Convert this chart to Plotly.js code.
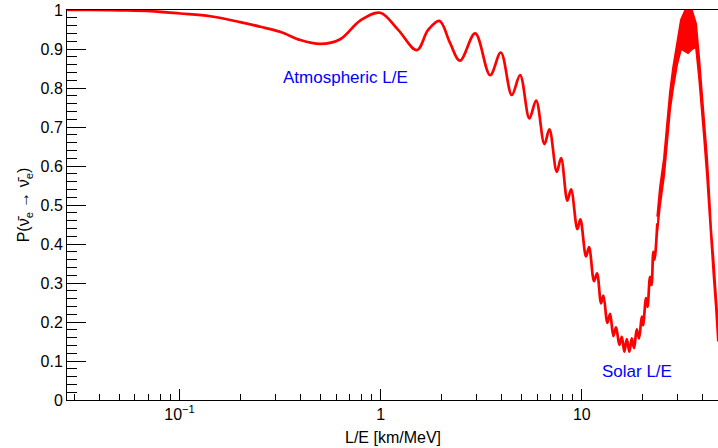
<!DOCTYPE html>
<html>
<head>
<meta charset="utf-8">
<script src="https://cdn.plot.ly/plotly-3.0.1.min.js"></script>
<style>html,body{margin:0;padding:0;background:#fff;}</style>
</head>
<body>
<div id="chart" style="width:718px;height:448px;"></div>
<script>
// L/E [km/MeV] and survival probability (resolved part of the curve)
const LE = [0.0276, 0.036, 0.0507, 0.0715, 0.1008, 0.1421, 0.2002, 0.2519, 0.3166, 0.398, 0.5003, 0.629, 0.791, 0.994,
  1.222, 1.513, 1.722, 1.96, 2.215, 2.48, 2.95, 3.501, 3.957, 4.488, 4.935, 5.49, 5.929, 6.52, 6.902, 7.511, 7.889,
  8.481, 8.847, 9.508, 9.841, 10.50, 10.87, 11.51, 11.91, 12.47, 12.81, 13.41, 13.83, 14.36, 14.81, 15.38, 15.81,
  16.28, 16.74, 17.25, 17.73, 18.20, 18.77, 19.27, 19.87, 20.17, 20.87, 21.23, 21.85, 22.23, 22.69, 23.00, 23.75];
const P = [1.000, 1.000, 0.999, 0.997, 0.991, 0.984, 0.969, 0.957, 0.944, 0.923, 0.913, 0.925, 0.973, 0.993,
  0.949, 0.897, 0.949, 0.972, 0.915, 0.870, 0.940, 0.833, 0.891, 0.782, 0.833, 0.722, 0.768, 0.656, 0.694, 0.585, 0.620,
  0.511, 0.540, 0.438, 0.463, 0.368, 0.392, 0.305, 0.325, 0.248, 0.268, 0.198, 0.221, 0.164, 0.186, 0.141, 0.162,
  0.124, 0.156, 0.124, 0.158, 0.133, 0.181, 0.158, 0.214, 0.192, 0.261, 0.239, 0.316, 0.295, 0.380, 0.36, 0.453];

// Unresolved fast-oscillation band: envelope
const bandLE = [23.75, 24.50, 25.65, 26.55, 27.48, 28.44, 29.77, 31.16, 32.62, 33.76, 35.34, 36.99, 38.28, 39.63,
  40.55, 41.97, 42.94, 43.93, 45.21, 46.50, 47.58];
const bandUpper = [0.47, 0.545, 0.62, 0.705, 0.79, 0.85, 0.915, 0.975, 0.998, 1.0, 0.998, 0.965, 0.88, 0.79,
  0.72, 0.62, 0.535, 0.44, 0.36, 0.275, 0.19];
const bandLower = [0.435, 0.50, 0.575, 0.66, 0.745, 0.80, 0.86, 0.90, 0.895, 0.89, 0.90, 0.905, 0.83, 0.745,
  0.675, 0.575, 0.49, 0.40, 0.32, 0.235, 0.15];

// Tick labels
const xTickVals = [0.1, 1, 10];
const xTickText = ['10<sup>\u22121</sup>', '1', '10'];
const xMinorVals = [0.03, 0.04, 0.05, 0.06, 0.07, 0.08, 0.09, 0.2, 0.3, 0.4, 0.5, 0.6, 0.7, 0.8, 0.9,
  2, 3, 4, 5, 6, 7, 8, 9, 20, 30, 40];

const font = 'Liberation Sans, Arial, Helvetica, sans-serif';
const red = '#ff0000';

const traces = [
  {x: LE, y: P, type: 'scatter', mode: 'lines', line: {color: red, width: 2.7, shape: 'spline', smoothing: 1}, hoverinfo: 'skip'},
  {x: bandLE, y: bandLower, type: 'scatter', mode: 'lines', line: {color: red, width: 2}, hoverinfo: 'skip'},
  {x: bandLE, y: bandUpper, type: 'scatter', mode: 'lines', fill: 'tonexty', fillcolor: red, line: {color: red, width: 2}, hoverinfo: 'skip'}
];

const layout = {
  width: 718, height: 448,
  margin: {l: 67, r: 0, t: 10, b: 48},
  paper_bgcolor: '#fff', plot_bgcolor: '#fff',
  showlegend: false,
  font: {family: font, color: '#000'},
  xaxis: {
    type: 'log', range: [Math.log10(0.02756), Math.log10(47.58)],
    tickmode: 'array', tickvals: xTickVals, ticktext: xTickText,
    ticks: 'inside', ticklen: 11, tickwidth: 1, tickcolor: '#000',
    minor: {tickmode: 'array', tickvals: xMinorVals, ticks: 'inside', ticklen: 6, tickwidth: 1, tickcolor: '#000', showgrid: false},
    showline: true, linecolor: '#000', linewidth: 1, mirror: true,
    showgrid: false, zeroline: false,
    tickfont: {family: font, size: 16, color: '#000'}
  },
  yaxis: {
    range: [0, 1], tick0: 0, dtick: 0.1,
    ticks: 'inside', ticklen: 19, tickwidth: 1, tickcolor: '#000',
    minor: {dtick: 0.02, ticks: 'inside', ticklen: 10, tickwidth: 1, tickcolor: '#000', showgrid: false},
    showline: true, linecolor: '#000', linewidth: 1,
    showgrid: false, zeroline: false,
    tickfont: {family: font, size: 16, color: '#000'},
    title: {text: 'P(\u03BD\u0304<sub>e</sub> \u2192 \u03BD\u0304<sub>e</sub>)', font: {family: font, size: 16, color: '#000'}, standoff: 6}
  },
  annotations: [
    {text: 'L/E [km/MeV]', xref: 'paper', yref: 'paper', x: 0.5, y: -0.095, showarrow: false,
     xanchor: 'center', yanchor: 'middle', font: {family: font, size: 16, color: '#000'}},
    {text: 'Atmospheric L/E', xref: 'paper', yref: 'paper', x: 0.4273, y: 0.828, showarrow: false,
     xanchor: 'center', yanchor: 'middle', font: {family: font, size: 17, color: '#0000ff'}},
    {text: 'Solar L/E', xref: 'paper', yref: 'paper', x: 0.8756, y: 0.0726, showarrow: false,
     xanchor: 'center', yanchor: 'middle', font: {family: font, size: 17, color: '#0000ff'}}
  ]
};

Plotly.newPlot('chart', traces, layout, {displayModeBar: false, staticPlot: true});
</script>
</body>
</html>
